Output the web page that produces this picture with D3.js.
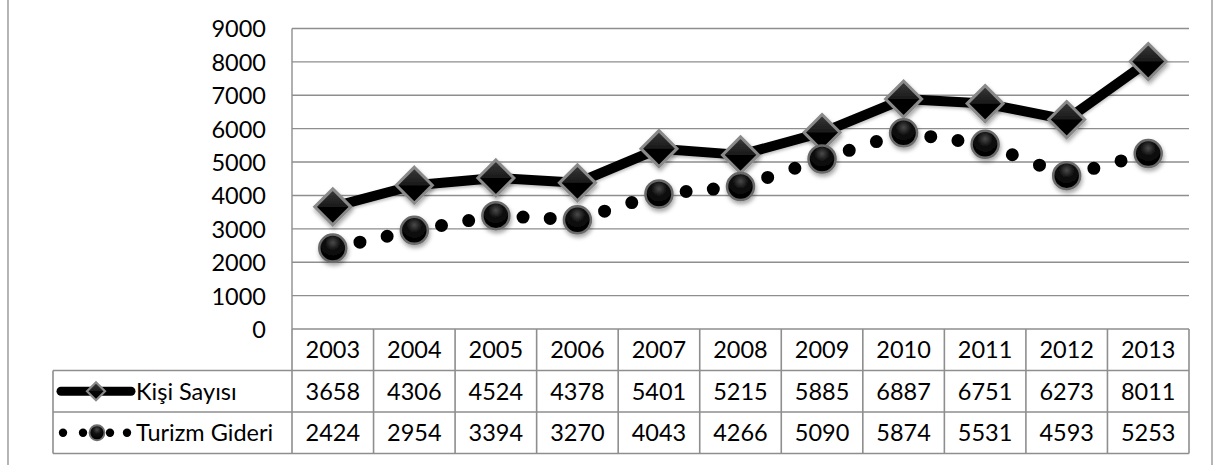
<!DOCTYPE html>
<html>
<head>
<meta charset="utf-8">
<script src="https://cdn.jsdelivr.net/npm/d3@7"></script>
<style>
  html, body { margin: 0; padding: 0; background: #fff; }
  svg { display: block; }
  text { font-family: Lato, "Open Sans", sans-serif; fill: #000; }
</style>
</head>
<body>
<svg id="chart" width="1218" height="465"></svg>
<script>
// Yearly figures
const years = ["2003","2004","2005","2006","2007","2008","2009","2010","2011","2012","2013"];
const kisiSayisi = [3658, 4306, 4524, 4378, 5401, 5215, 5885, 6887, 6751, 6273, 8011];
const turizmGideri = [2424, 2954, 3394, 3270, 4043, 4266, 5090, 5874, 5531, 4593, 5253];
const seriesNames = ["Kişi Sayısı", "Turizm Gideri"];
const yTicks = [0, 1000, 2000, 3000, 4000, 5000, 6000, 7000, 8000, 9000];

const svg = d3.select("#chart");
const W = 1218, H = 465;
const plotLeft = 292, plotRight = 1189, plotTop = 28.5, plotBottom = 329;
const rowH = 41.5;
const tableLeft = 53;
const grid = "#8e8e8e";
const fontSize = 23.5;

const defs = svg.append("defs");
// soft shadow under markers
const sh = defs.append("filter").attr("id", "shadow")
  .attr("x", "-50%").attr("y", "-50%").attr("width", "200%").attr("height", "200%");
sh.append("feDropShadow").attr("dx", 1).attr("dy", 3).attr("stdDeviation", 2.2)
  .attr("flood-color", "#000").attr("flood-opacity", 0.35);
const lsh = defs.append("filter").attr("id", "lshadow")
  .attr("x", "-10%").attr("y", "-50%").attr("width", "120%").attr("height", "200%");
lsh.append("feDropShadow").attr("dx", 0).attr("dy", 2).attr("stdDeviation", 1.5)
  .attr("flood-color", "#000").attr("flood-opacity", 0.25);

// diamond fill: slightly lighter upper half
const dg = defs.append("linearGradient").attr("id", "diamondFill")
  .attr("x1", 0).attr("y1", 0).attr("x2", 0).attr("y2", 1);
dg.append("stop").attr("offset", "0%").attr("stop-color", "#3a3a3a");
dg.append("stop").attr("offset", "49%").attr("stop-color", "#1a1a1a");
dg.append("stop").attr("offset", "51%").attr("stop-color", "#050505");
dg.append("stop").attr("offset", "100%").attr("stop-color", "#000");
// glossy circle fill
const cg = defs.append("radialGradient").attr("id", "circleFill")
  .attr("cx", "50%").attr("cy", "30%").attr("r", "60%");
cg.append("stop").attr("offset", "0%").attr("stop-color", "#4a4a4a");
cg.append("stop").attr("offset", "45%").attr("stop-color", "#111");
cg.append("stop").attr("offset", "100%").attr("stop-color", "#000");

// outer chart frame (sides)
svg.append("line").attr("x1", 8).attr("x2", 8).attr("y1", 0).attr("y2", H)
  .attr("stroke", grid).attr("stroke-width", 1.3);
svg.append("line").attr("x1", 1212).attr("x2", 1212).attr("y1", 0).attr("y2", H)
  .attr("stroke", grid).attr("stroke-width", 1.3);

const x = d3.scaleBand().domain(years).range([plotLeft, plotRight]);
const y = d3.scaleLinear().domain([0, 9000]).range([plotBottom, plotTop]);

// gridlines
svg.append("g").selectAll("line").data(yTicks.filter(d => d > 0)).join("line")
  .attr("x1", plotLeft).attr("x2", plotRight)
  .attr("y1", d => y(d)).attr("y2", d => y(d))
  .attr("stroke", grid).attr("stroke-width", 1.4);

// value axis labels
const yAxis = d3.axisLeft(y).tickValues(yTicks).tickSize(0).tickPadding(26).tickFormat(d3.format("d"));
const ya = svg.append("g").attr("transform", `translate(${plotLeft},0)`).call(yAxis);
ya.select(".domain").remove();
ya.selectAll("text").style("font-family", "Lato, 'Open Sans', sans-serif")
  .style("font-size", fontSize + "px").attr("fill", "#000").attr("dy", "0.36em");
svg.append("line").attr("x1", plotLeft).attr("x2", plotLeft).attr("y1", plotTop).attr("y2", plotBottom)
  .attr("stroke", grid).attr("stroke-width", 1.4);

// data table
const table = svg.append("g");
const tBottom = plotBottom + rowH * 3;
const hLines = [
  { y: plotBottom, x1: plotLeft },
  { y: plotBottom + rowH, x1: tableLeft },
  { y: plotBottom + rowH * 2, x1: tableLeft },
  { y: tBottom, x1: tableLeft }
];
table.selectAll("line.h").data(hLines).join("line").attr("class", "h")
  .attr("x1", d => d.x1).attr("x2", plotRight).attr("y1", d => d.y).attr("y2", d => d.y)
  .attr("stroke", grid).attr("stroke-width", 1.6);
const colEdges = years.map(d => x(d)).concat([plotRight]);
table.selectAll("line.v").data(colEdges).join("line").attr("class", "v")
  .attr("x1", d => d).attr("x2", d => d).attr("y1", plotBottom).attr("y2", tBottom)
  .attr("stroke", grid).attr("stroke-width", 1.6);
table.append("line").attr("x1", tableLeft).attr("x2", tableLeft)
  .attr("y1", plotBottom + rowH).attr("y2", tBottom).attr("stroke", grid).attr("stroke-width", 1.6);

const rows = [years, kisiSayisi, turizmGideri];
rows.forEach((row, r) => {
  table.append("g").selectAll("text").data(row).join("text")
    .attr("x", (d, i) => x(years[i]) + x.bandwidth() / 2)
    .attr("y", plotBottom + rowH * r + rowH / 2)
    .attr("dy", "0.36em").attr("text-anchor", "middle")
    .style("font-size", fontSize + "px").text(d => d);
});

// series legend keys in the table
const keyY1 = plotBottom + rowH * 1.5, keyY2 = plotBottom + rowH * 2.5;
table.append("line").attr("x1", 61).attr("x2", 131).attr("y1", keyY1).attr("y2", keyY1)
  .attr("stroke", "#000").attr("stroke-width", 9).attr("stroke-linecap", "round");
const diamond = s => `M0,${-s}L${s},0L0,${s}L${-s},0Z`;
table.append("path").attr("d", diamond(9)).attr("transform", `translate(96,${keyY1})`)
  .attr("fill", "url(#diamondFill)").attr("stroke", "#8a8a8a").attr("stroke-width", 2.2);
table.selectAll("circle.kd").data([63, 83, 110, 127]).join("circle").attr("class", "kd")
  .attr("cx", d => d).attr("cy", keyY2).attr("r", 4.2).attr("fill", "#000");
table.append("circle").attr("cx", 97).attr("cy", keyY2).attr("r", 7.5)
  .attr("fill", "url(#circleFill)").attr("stroke", "#6e6e6e").attr("stroke-width", 1.8);
table.selectAll("text.sn").data(seriesNames).join("text").attr("class", "sn")
  .attr("x", 136).attr("y", (d, i) => plotBottom + rowH * (1.5 + i))
  .attr("dy", "0.36em").style("font-size", fontSize + "px").text(d => d);

// series lines
const cx = i => x(years[i]) + x.bandwidth() / 2;
const line = d3.line().x((d, i) => cx(i)).y(d => y(d));

// round-dot line: each segment carries dots at thirds of its length
const segs = d3.pairs(turizmGideri.map((v, i) => [cx(i), y(v)]));
svg.append("g").selectAll("line").data(segs).join("line")
  .attr("x1", d => d[0][0]).attr("y1", d => d[0][1])
  .attr("x2", d => d[1][0]).attr("y2", d => d[1][1])
  .attr("stroke", "#000").attr("stroke-width", 13).attr("stroke-linecap", "round")
  .attr("stroke-dasharray", d => {
    const L = Math.hypot(d[1][0] - d[0][0], d[1][1] - d[0][1]);
    return `0 ${L / 3}`;
  });
svg.append("path").attr("d", line(kisiSayisi)).attr("fill", "none")
  .attr("stroke", "#000").attr("stroke-width", 10).attr("stroke-linejoin", "round")
  .attr("filter", "url(#lshadow)");

// markers
svg.append("g").selectAll("path").data(kisiSayisi).join("path")
  .attr("d", diamond(18)).attr("transform", (d, i) => `translate(${cx(i)},${y(d)})`)
  .attr("fill", "url(#diamondFill)").attr("stroke", "#8a8a8a").attr("stroke-width", 3)
  .attr("filter", "url(#shadow)");
svg.append("g").selectAll("circle").data(turizmGideri).join("circle")
  .attr("cx", (d, i) => cx(i)).attr("cy", d => y(d)).attr("r", 13.5)
  .attr("fill", "url(#circleFill)").attr("stroke", "#6a6a6a").attr("stroke-width", 2.5)
  .attr("filter", "url(#shadow)");
</script>
</body>
</html>
